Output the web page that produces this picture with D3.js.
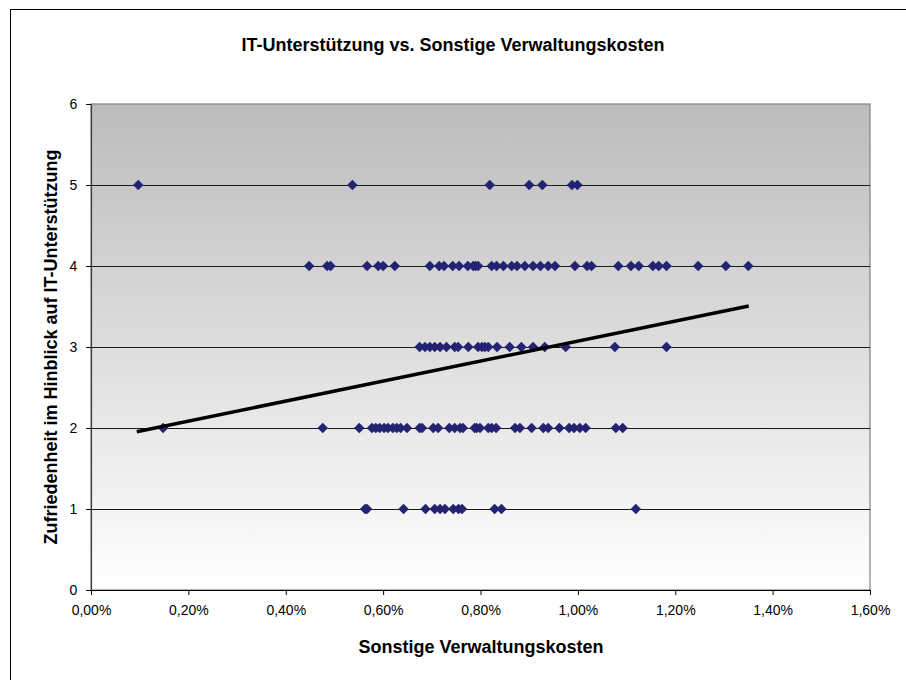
<!DOCTYPE html>
<html>
<head>
<meta charset="utf-8">
<script src="https://cdn.jsdelivr.net/npm/d3@7"></script>
<style>
  html, body { margin: 0; padding: 0; background: #fff; }
  svg { display: block; font-family: "Liberation Sans", Arial, sans-serif; }
</style>
</head>
<body>
<svg id="chart" width="906" height="680"></svg>
<script>
// Sonstige Verwaltungskosten (in %) per satisfaction level
const level5 = [0.097, 0.537, 0.819, 0.900, 0.927, 0.988, 0.999];
const level4 = [0.448, 0.485, 0.492, 0.567, 0.590, 0.600, 0.624, 0.696, 0.715, 0.725,
                0.743, 0.756, 0.774, 0.785, 0.790, 0.795, 0.823, 0.833, 0.847, 0.864,
                0.875, 0.891, 0.908, 0.923, 0.939, 0.953, 0.994, 1.019, 1.028, 1.083,
                1.109, 1.125, 1.154, 1.166, 1.182, 1.247, 1.304, 1.350];
const level3 = [0.675, 0.686, 0.696, 0.706, 0.717, 0.730, 0.747, 0.754, 0.775, 0.795,
                0.803, 0.809, 0.816, 0.834, 0.860, 0.884, 0.908, 0.932, 0.975, 1.076, 1.182];
const level2 = [0.148, 0.476, 0.551, 0.577, 0.585, 0.593, 0.602, 0.610, 0.620, 0.628,
                0.636, 0.649, 0.675, 0.680, 0.703, 0.713, 0.736, 0.747, 0.758, 0.764,
                0.788, 0.792, 0.799, 0.816, 0.823, 0.832, 0.871, 0.881, 0.905, 0.929,
                0.939, 0.962, 0.982, 0.992, 1.004, 1.016, 1.078, 1.092];
const level1 = [0.563, 0.567, 0.642, 0.687, 0.706, 0.717, 0.727, 0.744, 0.755, 0.762,
                0.829, 0.843, 1.119];
const levels = [5, 4, 3, 2, 1];
const levelValues = [level5, level4, level3, level2, level1];

// Linear trendline end points (x in %, y satisfaction)
const trendX = [0.094, 1.351];
const trendY = [1.954, 3.506];

const xTicks = [0, 0.2, 0.4, 0.6, 0.8, 1.0, 1.2, 1.4, 1.6];
const yTicks = [0, 1, 2, 3, 4, 5, 6];

const chartTitle = "IT-Unterstützung vs. Sonstige Verwaltungskosten";
const xTitle = "Sonstige Verwaltungskosten";
const yTitle = "Zufriedenheit im Hinblick auf IT-Unterstützung";

const points = [];
levels.forEach((lv, i) => levelValues[i].forEach(v => points.push({ x: v, y: lv })));

const svg = d3.select("#chart");
const plot = { left: 91, right: 870, top: 104, bottom: 590 };

const x = d3.scaleLinear().domain([0, 1.6]).range([plot.left, plot.right]);
const y = d3.scaleLinear().domain([0, 6]).range([plot.bottom, plot.top]);

// Outer chart frame
svg.append("rect")
  .attr("x", 10.5).attr("y", 9.5)
  .attr("width", 1000).attr("height", 1000)
  .attr("fill", "#fff").attr("stroke", "#000").attr("stroke-width", 1);

// Plot area gradient
const defs = svg.append("defs");
const grad = defs.append("linearGradient")
  .attr("id", "plotBg").attr("x1", 0).attr("y1", 0).attr("x2", 0).attr("y2", 1);
grad.append("stop").attr("offset", "0%").attr("stop-color", "#bcbcbc");
grad.append("stop").attr("offset", "100%").attr("stop-color", "#ffffff");

svg.append("rect")
  .attr("x", plot.left).attr("y", plot.top)
  .attr("width", plot.right - plot.left).attr("height", plot.bottom - plot.top)
  .attr("fill", "url(#plotBg)")
  .attr("stroke", "#808080").attr("stroke-width", 1.2);

// Horizontal gridlines
svg.append("g")
  .selectAll("line")
  .data(yTicks.filter(t => t > 0 && t < 6))
  .join("line")
  .attr("x1", plot.left).attr("x2", plot.right)
  .attr("y1", d => Math.round(y(d)) + 0.5).attr("y2", d => Math.round(y(d)) + 0.5)
  .attr("stroke", "#1a1a1a").attr("stroke-width", 1);

// Axes
const fmtPct = d => d3.format(".2f")(d).replace(".", ",") + "%";
const xAxis = svg.append("g")
  .attr("transform", `translate(0,${plot.bottom})`)
  .call(d3.axisBottom(x).tickValues(xTicks).tickFormat(fmtPct).tickSize(5).tickSizeOuter(0));
const yAxis = svg.append("g")
  .attr("transform", `translate(${plot.left},0)`)
  .call(d3.axisLeft(y).tickValues(yTicks).tickFormat(d3.format("d")).tickSize(5).tickSizeOuter(0));

[xAxis, yAxis].forEach(g => {
  g.selectAll("text").attr("font-family", "'Liberation Sans', Arial, sans-serif")
    .attr("font-size", 14).attr("fill", "#000");
  g.selectAll("line").attr("stroke", "#000");
});
xAxis.select(".domain").attr("stroke", "#000").attr("stroke-width", 1.2);
yAxis.select(".domain").attr("stroke", "#404040").attr("stroke-width", 1.2);
xAxis.selectAll("text").attr("dy", "1.2em");
yAxis.selectAll("text").attr("dx", "-0.4em");

// Data markers (diamonds)
const diamond = d3.symbol().type(d3.symbolDiamond2).size(70);
svg.append("g")
  .selectAll("path")
  .data(points)
  .join("path")
  .attr("d", diamond)
  .attr("transform", d => `translate(${x(d.x)},${y(d.y)})`)
  .attr("fill", "#232372");

// Linear trendline
svg.append("line")
  .attr("x1", x(trendX[0])).attr("y1", y(trendY[0]))
  .attr("x2", x(trendX[1])).attr("y2", y(trendY[1]))
  .attr("stroke", "#000").attr("stroke-width", 3.5);

// Titles
svg.append("text")
  .attr("x", 453).attr("y", 51)
  .attr("text-anchor", "middle")
  .attr("font-size", 18).attr("font-weight", "bold")
  .text(chartTitle);

svg.append("text")
  .attr("x", 481).attr("y", 653)
  .attr("text-anchor", "middle")
  .attr("font-size", 18).attr("font-weight", "bold")
  .text(xTitle);

svg.append("text")
  .attr("transform", `translate(57,${(plot.top + plot.bottom) / 2}) rotate(-90)`)
  .attr("text-anchor", "middle")
  .attr("font-size", 18).attr("font-weight", "bold")
  .text(yTitle);
</script>
</body>
</html>
